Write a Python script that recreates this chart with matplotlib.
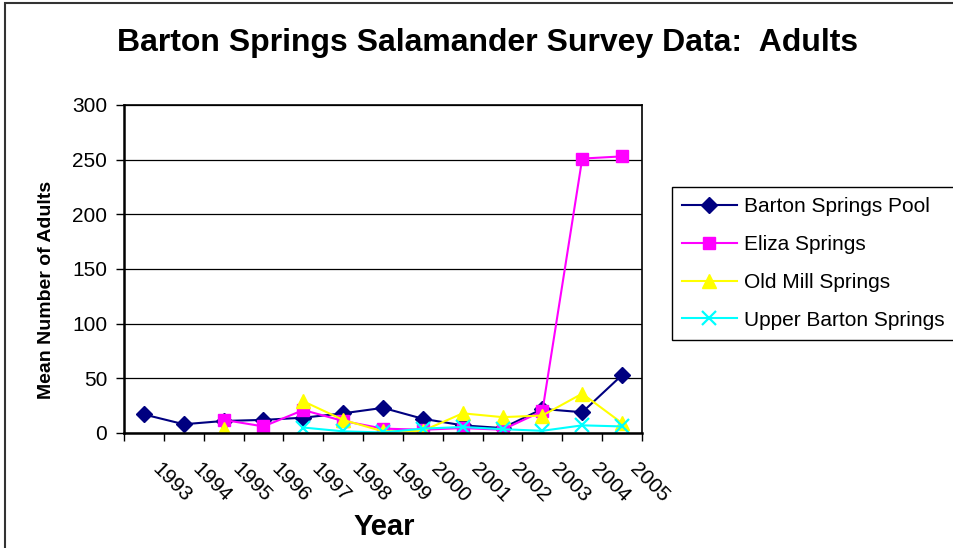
import numpy as np
import matplotlib
matplotlib.use('Agg')
import matplotlib.pyplot as plt
from matplotlib.patches import Rectangle
from matplotlib.transforms import ScaledTranslation

plt.rcParams['font.family'] = ['Liberation Sans', 'DejaVu Sans']

years = ['1993', '1994', '1995', '1996', '1997', '1998', '1999',
         '2000', '2001', '2002', '2003', '2004', '2005']
nan = np.nan
pool = [17, 8, 11, 12, 14, 18, 23, 13, 7, 4.5, 22, 19, 53]
eliza = [nan, nan, 12, 6, 21, 11, 4, 3, 4.5, 3, 20, 251, 253]
old_mill = [nan, nan, 4, nan, 29, 12, 1.5, 2, 18, 14.5, 16, 36, 9]
upper = [nan, nan, nan, nan, 5, 1.5, 0.5, 4, 5.5, 3.5, 2, 7, 6]

W, H = 954, 548
fig = plt.figure(figsize=(W / 100, H / 100), dpi=100)
ax = fig.add_axes([124 / W, 1 - 433 / H, (642 - 124) / W, (433 - 105) / H])

x = np.arange(len(years))
ax.plot(x, pool, color='#000080', marker='D', ms=8.5, lw=1.5, label='Barton Springs Pool')
ax.plot(x, eliza, color='#FF00FF', marker='s', ms=8, lw=1.5, label='Eliza Springs')
ax.plot(x, old_mill, color='#FFFF00', marker='^', ms=10.5, lw=1.5, label='Old Mill Springs')
ax.plot(x, upper, color='#00FFFF', marker='x', ms=9.5, mew=1.6, lw=1.5, label='Upper Barton Springs')

ax.set_xlim(-0.5, len(years) - 0.5)
ax.set_ylim(0, 300)
ax.set_yticks(range(0, 301, 50))
ax.yaxis.grid(True, color='black', lw=0.9)
ax.set_axisbelow(True)
ax.tick_params(axis='y', labelsize=15, length=6, width=1, direction='out', pad=6)

ax.set_xticks(np.arange(-0.5, len(years)), labels=[''] * (len(years) + 1))
ax.tick_params(axis='x', which='major', length=6, width=1, direction='out')
ax.set_xticks(x, labels=years, minor=True)
ax.tick_params(axis='x', which='minor', length=0, labelsize=15, pad=19)
for lbl in ax.get_xticklabels(minor=True):
    lbl.set_rotation(-45)
    lbl.set_rotation_mode('anchor')
    lbl.set_ha('left')
    lbl.set_va('top')
    lbl.set_transform(lbl.get_transform() + ScaledTranslation(0.18, 0, fig.dpi_scale_trans))

for s in ax.spines.values():
    s.set_color('black')
    s.set_linewidth(1.2)
ax.spines['left'].set_linewidth(1.8)
ax.spines['bottom'].set_linewidth(1.8)

fig.text(488 / W, 1 - 43 / H, 'Barton Springs Salamander Survey Data:  Adults',
         fontsize=23, fontweight='bold', ha='center', va='center')
fig.text(47 / W, 1 - 290 / H, 'Mean Number of Adults', fontsize=14,
         fontweight='bold', rotation=90, ha='center', va='center')
fig.text(384 / W, 1 - 527 / H, 'Year', fontsize=21, fontweight='bold',
         ha='center', va='center')

leg = ax.legend(loc='upper left', bbox_to_anchor=(672 / W, 1 - 187 / H),
                bbox_transform=fig.transFigure, borderaxespad=0, fontsize=15,
                frameon=True, fancybox=False, edgecolor='black', framealpha=1,
                handlelength=2.6, handletextpad=0.35, labelspacing=0.9,
                borderpad=0.5)
leg.get_frame().set_linewidth(1.0)

fig.patches.append(Rectangle((5 / W, -0.1), 1.2, 1.1 - 3 / H, transform=fig.transFigure,
                             fill=False, edgecolor='#333333', lw=1.5))

fig.savefig('out.png', dpi=100)
